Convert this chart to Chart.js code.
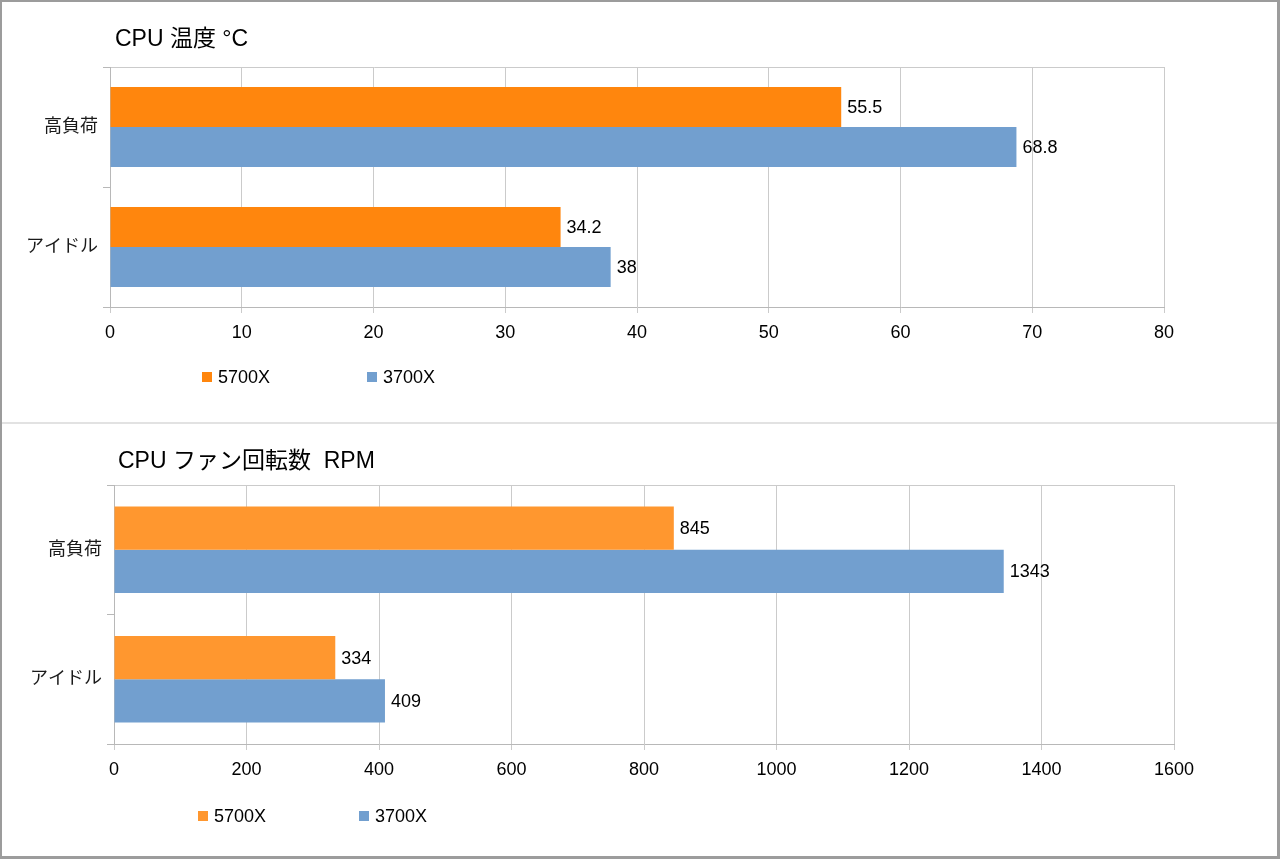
<!DOCTYPE html>
<html lang="ja">
<head>
<meta charset="utf-8">
<title>CPU 温度 / CPU ファン回転数</title>
<script src="https://cdn.jsdelivr.net/npm/chart.js@4.4.0/dist/chart.umd.min.js"></script>
<style>
  html, body { margin: 0; padding: 0; background: #fff; }
  #sheet { position: relative; width: 1280px; height: 859px; overflow: hidden; }
  #sheet canvas { position: absolute; left: 0; }
  #tempChart { top: 0; }
  #fanChart { top: 424px; }
  #rule { position: absolute; left: 2px; right: 3px; top: 422px; height: 2px; background: #e2e2e2; }
  #frame { position: absolute; left: 0; top: 0; right: 0; bottom: 0; border: 2px solid #9c9c9c; border-right-width: 3px; border-bottom-width: 3px; pointer-events: none; }
</style>
</head>
<body>
<div id="sheet">
  <canvas id="tempChart" width="1280" height="423"></canvas>
  <div id="rule"></div>
  <canvas id="fanChart" width="1280" height="435"></canvas>
  <div id="frame"></div>
</div>
<script>
const categories = ['高負荷', 'アイドル'];
const seriesNames = ['5700X', '3700X'];

const temp5700 = [55.5, 34.2];
const temp3700 = [68.8, 38];
const tempTicks = [0, 10, 20, 30, 40, 50, 60, 70, 80];

const fan5700 = [845, 334];
const fan3700 = [1343, 409];
const fanTicks = [0, 200, 400, 600, 800, 1000, 1200, 1400, 1600];

const fontFamily = "'Liberation Sans', 'Noto Sans CJK JP', sans-serif";
Chart.defaults.font.family = fontFamily;

// numbers printed right after each bar
const valueLabels = {
    id: 'valueLabels',
    afterDatasetsDraw(chart) {
        const ctx = chart.ctx;
        ctx.save();
        ctx.font = '18px ' + fontFamily;
        ctx.fillStyle = '#000';
        ctx.textBaseline = 'middle';
        chart.data.datasets.forEach((ds, i) => {
            chart.getDatasetMeta(i).data.forEach((bar, j) => {
                ctx.fillText(String(ds.data[j]), bar.x + 6, bar.y + 1);
            });
        });
        ctx.restore();
    }
};

// left aligned title + spread out legend like the spreadsheet export
const sheetDecor = {
    id: 'sheetDecor',
    afterDraw(chart, args, opts) {
        const ctx = chart.ctx;
        ctx.save();
        ctx.textBaseline = 'middle';
        ctx.fillStyle = '#000';
        ctx.font = opts.titleSize + 'px ' + fontFamily;
        ctx.fillText(opts.title, opts.titleX, opts.titleY);
        ctx.font = '18px ' + fontFamily;
        chart.data.datasets.forEach((ds, i) => {
            const x = opts.legendX[i];
            ctx.fillStyle = ds.backgroundColor;
            ctx.fillRect(x, opts.legendY - 5, 10, 10);
            ctx.fillStyle = '#000';
            ctx.fillText(ds.label, x + 16, opts.legendY + 1);
        });
        ctx.restore();
    }
};

function buildChart(id, cfg) {
    return new Chart(document.getElementById(id), {
        type: 'bar',
        data: {
            labels: categories,
            datasets: [
                { label: seriesNames[0], data: cfg.first, backgroundColor: cfg.orange },
                { label: seriesNames[1], data: cfg.second, backgroundColor: '#729fcf' }
            ]
        },
        options: {
            indexAxis: 'y',
            responsive: false,
            animation: false,
            categoryPercentage: 0.667,
            barPercentage: 1,
            layout: { padding: cfg.padding },
            scales: {
                x: {
                    min: cfg.ticks[0],
                    max: cfg.ticks[cfg.ticks.length - 1],
                    afterBuildTicks: scale => { scale.ticks = cfg.ticks.map(v => ({ value: v })); },
                    afterFit: scale => { scale.height = 40; },
                    grid: { color: '#cbcbcb', tickLength: 6, tickColor: '#cbcbcb' },
                    border: { color: '#b8b8b8' },
                    ticks: {
                        color: '#000',
                        font: { size: 18 },
                        padding: 9,
                        maxRotation: 0,
                        callback: v => String(v)
                    }
                },
                y: {
                    afterFit: scale => { scale.width = cfg.axisWidth; },
                    grid: {
                        color: c => c.index === 0 ? '#cbcbcb' : 'rgba(0,0,0,0)',
                        tickLength: 7,
                        tickColor: '#b8b8b8'
                    },
                    border: { color: '#b8b8b8' },
                    ticks: { color: '#1a1a1a', font: { size: 18 }, padding: 5 }
                }
            },
            plugins: {
                legend: { display: false },
                tooltip: { enabled: false },
                sheetDecor: cfg.decor
            }
        },
        plugins: [valueLabels, sheetDecor]
    });
}

const tempChart = buildChart('tempChart', {
    first: temp5700,
    second: temp3700,
    ticks: tempTicks,
    orange: '#ff860d',
    axisWidth: 110,
    padding: { top: 67, right: 116, bottom: 76, left: 0 },
    decor: { title: 'CPU 温度 °C', titleSize: 23, titleX: 115, titleY: 40, legendX: [202, 367], legendY: 377 }
});

const fanChart = buildChart('fanChart', {
    first: fan5700,
    second: fan3700,
    ticks: fanTicks,
    orange: '#ff972f',
    axisWidth: 114,
    padding: { top: 61, right: 106, bottom: 75, left: 0 },
    decor: { title: 'CPU ファン回転数  RPM', titleSize: 23, titleX: 118, titleY: 38, legendX: [198, 359], legendY: 392 }
});
</script>
</body>
</html>
